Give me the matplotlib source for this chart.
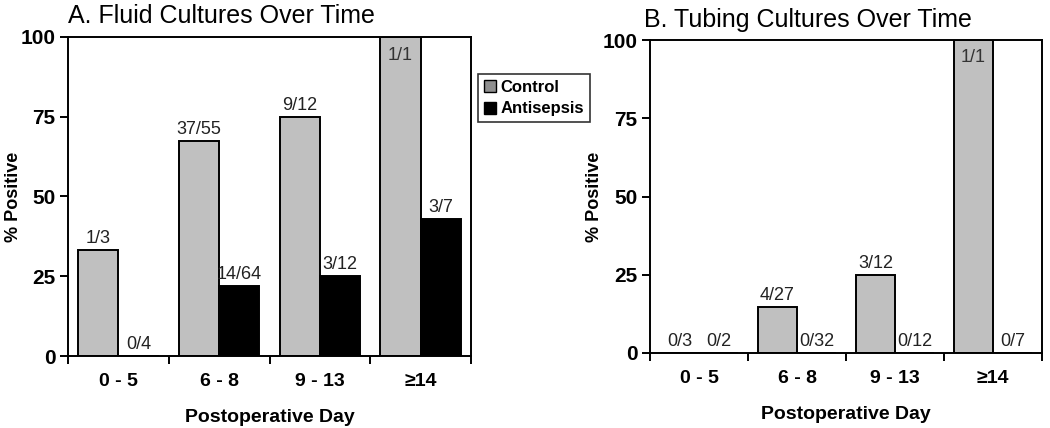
import numpy as np
import matplotlib
matplotlib.use('Agg')
import matplotlib.pyplot as plt
from matplotlib.patches import Patch

plt.rcParams['font.family'] = ['Liberation Sans', 'DejaVu Sans']

# data
days = ['0 - 5', '6 - 8', '9 - 13', '\u226514']
fluid_control = [33.3, 67.3, 75.0, 100.0]
fluid_antisepsis = [0.0, 21.9, 25.0, 42.9]
fluid_control_lbl = ['1/3', '37/55', '9/12', '1/1']
fluid_antisepsis_lbl = ['0/4', '14/64', '3/12', '3/7']
tube_control = [0.0, 14.8, 25.0, 100.0]
tube_antisepsis = [0.0, 0.0, 0.0, 0.0]
tube_control_lbl = ['0/3', '4/27', '3/12', '1/1']
tube_antisepsis_lbl = ['0/2', '0/32', '0/12', '0/7']

fig = plt.figure(figsize=(10.5, 4.28), dpi=100)
W, H = 1050, 428
axA = fig.add_axes([68 / W, 1 - 356 / H, (471 - 68) / W, (356 - 37) / H])
axB = fig.add_axes([650 / W, 1 - 353 / H, (1042 - 650) / W, (353 - 40) / H])


def draw(ax, ctrl, anti, ctrl_lbl, anti_lbl, title, title_x, title_y, ylab_x):
    x = np.arange(len(days))
    w = 0.4
    ax.bar(x - w / 2, ctrl, w, color='#c0c0c0', edgecolor='black', linewidth=1.4)
    ax.bar(x + w / 2, anti, w, color='black', edgecolor='black', linewidth=1.4)
    for i in range(len(days)):
        if ctrl[i] >= 100:
            ax.text(x[i] - w / 2, ctrl[i] - 3, ctrl_lbl[i], ha='center', va='top', fontsize=13, color='#333333')
        else:
            ax.text(x[i] - w / 2, ctrl[i] + 1, ctrl_lbl[i], ha='center', va='bottom', fontsize=13, color='#222222')
        ax.text(x[i] + w / 2, anti[i] + 1, anti_lbl[i], ha='center', va='bottom', fontsize=13, color='#222222')
    ax.set_xlim(-0.5, len(days) - 0.5)
    ax.set_ylim(0, 100)
    ax.set_yticks([0, 25, 50, 75, 100])
    ax.set_xticks(np.arange(len(days) + 1) - 0.5)
    ax.set_xticklabels([])
    ax.set_xticks(x, minor=True)
    ax.set_xticklabels(days, minor=True, fontsize=14, fontweight='bold')
    ax.tick_params(axis='x', which='minor', length=0, pad=12)
    ax.tick_params(axis='x', which='major', direction='out', length=6, width=1.4)
    ax.tick_params(axis='y', direction='out', length=6, width=1.4, labelsize=15, pad=3)
    for t in ax.get_yticklabels():
        t.set_fontweight('bold')
    for s in ax.spines.values():
        s.set_linewidth(1.4)
    ax.set_xlabel('Postoperative Day', fontsize=14, fontweight='bold', labelpad=14)
    ax.set_ylabel('% Positive', fontsize=13, fontweight='bold')
    ax.yaxis.set_label_coords(ylab_x, 0.5)
    ax.text(title_x, title_y, title, transform=ax.transAxes, fontsize=18, ha='left', va='baseline')


draw(axA, fluid_control, fluid_antisepsis, fluid_control_lbl, fluid_antisepsis_lbl,
     'A. Fluid Cultures Over Time', 0.0, 1.045, -(68 - 22) / 403)
draw(axB, tube_control, tube_antisepsis, tube_control_lbl, tube_antisepsis_lbl,
     'B. Tubing Cultures Over Time', -0.015, 1.042, -(650 - 603) / 392)

handles = [Patch(facecolor='#909090', edgecolor='black', label='Control'),
           Patch(facecolor='black', edgecolor='black', label='Antisepsis')]
leg = fig.legend(handles=handles, loc='upper left', bbox_to_anchor=(478 / W, 1 - 74 / H),
                 borderaxespad=0, frameon=True, fancybox=False, edgecolor='black',
                 handlelength=0.7, handleheight=0.7, handletextpad=0.3, borderpad=0.35,
                 labelspacing=0.4, prop={'weight': 'bold', 'size': 12})
leg.get_frame().set_linewidth(1.2)

fig.savefig('out.png', dpi=100)
